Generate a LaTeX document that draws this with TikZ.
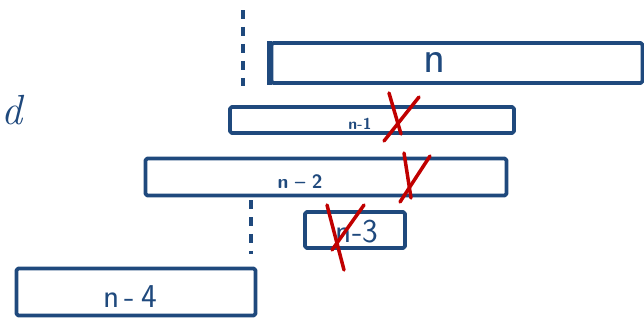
\documentclass[tikz,border=0pt]{standalone}
\usepackage{xcolor}
\usepackage{tikz}
\usetikzlibrary{positioning,calc}
\definecolor{inkBlue}{RGB}{31,73,125}
\definecolor{inkRed}{RGB}{192,0,0}
\tikzset{
  cbBox/.style={draw=inkBlue, line width=0.075cm, rounded corners=1pt,
    inner sep=0pt, line join=round},
  cbLbl/.style={text=inkBlue, font=\sffamily, inner sep=0pt},
  %% Crossing-out strokes
  cbCross/.style={draw=inkRed, line width=0.07cm, line cap=round},
  %% Dashed separators
  cbSep/.style={draw=inkBlue, line width=0.075cm, dash pattern=on 0.18cm off 0.16cm},
}
\begin{document}
\begin{tikzpicture}[x=0.02cm, y=-0.02cm]
\useasboundingbox (0,0) rectangle (644,321);

%% Word fragment on the left
\node[cbLbl, anchor=west, font=\fontsize{24}{26}\selectfont\itshape] (wCut) at (1,110) {d};

%% Separators
\draw[cbSep] (243,10) -- (243,86);
\draw[cbSep] (251,200) -- (251,254);

%% Boxes
\node[cbBox, minimum width=371*0.02cm, minimum height=40*0.02cm] (bN)  at (457,63)  {};
\node[cbBox, minimum width=284*0.02cm, minimum height=26*0.02cm] (bN1) at (372,120) {};
\node[cbBox, minimum width=361*0.02cm, minimum height=37*0.02cm] (bN2) at (326,177) {};
\node[cbBox, minimum width=100*0.02cm, minimum height=36*0.02cm] (bN3) at (355,230) {};
\node[cbBox, minimum width=239*0.02cm, minimum height=47*0.02cm] (bN4) at (136,292) {};
\draw[draw=inkBlue, line width=0.11cm] (bN.north west) -- (bN.south west);

%% Labels
\node[cbLbl, font=\fontsize{26}{28}\selectfont\sffamily] (lN)  at (435,62)  {n};
\node[cbLbl, font=\fontsize{9}{10}\selectfont\sffamily\bfseries]  (lN1) at (360,124) {n-1};
\node[cbLbl, font=\fontsize{11}{12}\selectfont\sffamily\bfseries] (lN2) at (300,182) {n\,\,--\,\,2};
\node[cbLbl, font=\fontsize{19}{21}\selectfont\sffamily] (lN3) at (357,232) {n-3};
\node[cbLbl, font=\fontsize{19}{21}\selectfont\sffamily] (lN4) at (130,297) {n\,-\,4};

%% Crossed out
\draw[cbCross] (389,93) -- (401,134);
\draw[cbCross] (419,97) -- (384,141);
\draw[cbCross] (404,153) -- (411,198);
\draw[cbCross] (430,156) -- (400,202);
\draw[cbCross] (327,205) -- (344,270);
\draw[cbCross] (364,205) -- (332,250);

\end{tikzpicture}
\end{document}
